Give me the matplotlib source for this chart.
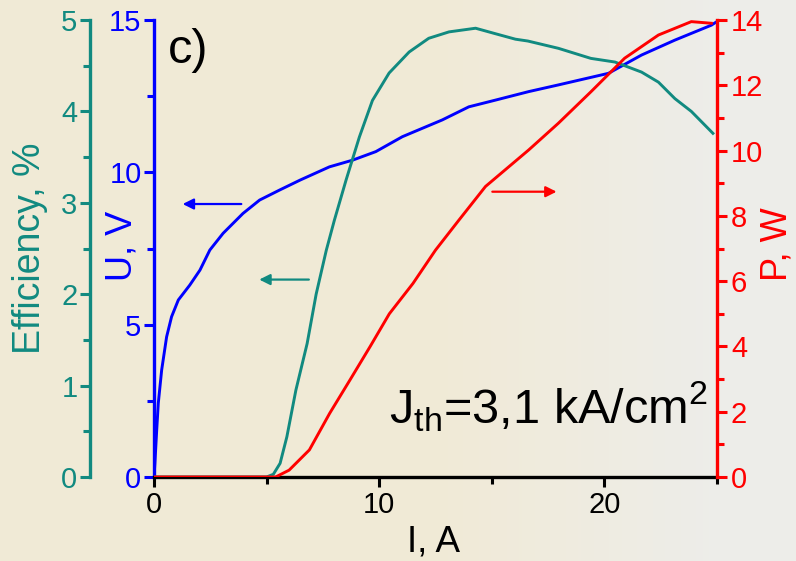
import numpy as np
import matplotlib
matplotlib.use('Agg')
import matplotlib.pyplot as plt
from matplotlib.ticker import MultipleLocator

plt.rcParams['font.family'] = ['Liberation Sans', 'DejaVu Sans']
plt.rcParams['mathtext.fontset'] = 'custom'
plt.rcParams['mathtext.rm'] = 'Liberation Sans'

# corriente, A  /  tension, V
i_u = [0, 0.04, 0.12, 0.19, 0.34, 0.56, 0.78, 1.08, 1.59, 2.04, 2.48, 3.07, 3.95, 4.69,
       5.58, 6.5, 7.79, 8.82, 9.85, 11.03, 12.8, 13.98, 15.16, 16.64, 17.96, 20.18,
       21.65, 23.13, 24.75, 25.0]
u = [0, 0.45, 1.54, 2.42, 3.51, 4.6, 5.26, 5.81, 6.3, 6.79, 7.45, 8.0, 8.65, 9.09,
     9.42, 9.75, 10.18, 10.4, 10.68, 11.17, 11.72, 12.15, 12.37, 12.65, 12.87, 13.25,
     13.85, 14.34, 14.83, 14.95]

# eficiencia, %
i_eff = [0, 5.0, 5.3, 5.6, 5.9, 6.3, 6.8, 7.2, 7.65, 8.01, 8.53, 9.12, 9.7, 10.44, 11.33,
         12.2, 13.1, 14.28, 15.16, 16.05, 16.6, 17.96, 19.4, 20.47, 21.65, 22.4, 23.13,
         23.86, 24.82]
eff = [0, 0, 0.03, 0.15, 0.44, 0.95, 1.46, 2.0, 2.48, 2.81, 3.25, 3.72, 4.12, 4.42, 4.65,
       4.8, 4.87, 4.91, 4.85, 4.79, 4.77, 4.69, 4.58, 4.54, 4.43, 4.32, 4.14,
       4.0, 3.76]

# potencia, W
i_p = [0, 5.4, 6.0, 6.9, 7.8, 8.7, 9.6, 10.45, 11.5, 12.5, 13.54, 14.72, 16.64, 17.96,
       19.4, 20.9, 22.4, 23.86, 24.75]
p = [0, 0, 0.21, 0.83, 1.95, 2.97, 4.0, 5.0, 5.93, 6.95, 7.87, 8.9, 10.02, 10.84,
     11.8, 12.83, 13.54, 13.95, 13.9]

TEAL = '#118a80'
BLUE = '#0000ff'
RED = '#ff0000'

fig = plt.figure(figsize=(7.96, 5.61), dpi=100)

# fondo degradado
bg = fig.add_axes([0, 0, 1, 1], zorder=-10)
grad = np.linspace(0, 1, 256)
c1 = np.array([0.945, 0.918, 0.840])
c2 = np.array([0.930, 0.930, 0.915])
w = np.clip((grad - 0.55) / 0.35, 0, 1)[:, None]
img = (c1 * (1 - w) + c2 * w)[None, :, :]
bg.imshow(img, aspect='auto', extent=[0, 1, 0, 1])
bg.axis('off')

ax = fig.add_axes([154/796, 1 - 477/561, (717 - 154)/796, (477 - 20)/561])
ax.patch.set_alpha(0)
ax_e = ax.twinx()
ax_p = ax.twinx()

# eje de eficiencia a la izquierda
ax_e.yaxis.set_label_position('left')
ax_e.yaxis.tick_left()
ax_e.spines['left'].set_position(('axes', -64/563))
for s in ['right', 'top', 'bottom']:
    ax_e.spines[s].set_visible(False)
ax_e.spines['left'].set_color(TEAL)

for s in ['right', 'top']:
    ax.spines[s].set_visible(False)
ax.spines['left'].set_color(BLUE)
ax.spines['bottom'].set_color('black')

for s in ['left', 'top', 'bottom']:
    ax_p.spines[s].set_visible(False)
ax_p.spines['right'].set_color(RED)

for a in (ax, ax_e, ax_p):
    for s in a.spines.values():
        s.set_linewidth(2.4)

ax_e.plot(i_eff, eff, color=TEAL, lw=2.1)
ax_p.plot(i_p, p, color=RED, lw=2.1)
ax.plot(i_u, u, color=BLUE, lw=2.1, zorder=5)

ax.set_xlim(0, 25)
ax.set_ylim(0, 15)
ax_e.set_ylim(0, 5)
ax_p.set_ylim(0, 14)

ax.xaxis.set_major_locator(MultipleLocator(10))
ax.xaxis.set_minor_locator(MultipleLocator(5))
ax.yaxis.set_major_locator(MultipleLocator(5))
ax.yaxis.set_minor_locator(MultipleLocator(2.5))
ax_e.yaxis.set_major_locator(MultipleLocator(1))
ax_e.yaxis.set_minor_locator(MultipleLocator(0.5))
ax_p.yaxis.set_major_locator(MultipleLocator(2))
ax_p.yaxis.set_minor_locator(MultipleLocator(1))

FS = 21
ax.tick_params(axis='x', which='major', length=7, width=2.2, labelsize=FS, colors='black', pad=3)
ax.tick_params(axis='x', which='minor', length=5, width=2.2, colors='black')
ax.tick_params(axis='y', which='major', length=7, width=2.2, labelsize=FS, colors=BLUE, pad=2)
ax.tick_params(axis='y', which='minor', length=5, width=2.2, colors=BLUE)
ax_e.tick_params(axis='y', which='major', length=7, width=2.2, labelsize=FS, colors=TEAL, pad=2)
ax_e.tick_params(axis='y', which='minor', length=5, width=2.2, colors=TEAL)
ax_p.tick_params(axis='y', which='major', length=7, width=2.2, labelsize=FS, colors=RED, pad=3)
ax_p.tick_params(axis='y', which='minor', length=5, width=2.2, colors=RED)

ax.set_xlabel('I, A', fontsize=26.5)
ax.xaxis.set_label_coords(0.497, -0.104)
ax.set_ylabel('U, V', fontsize=26, color=BLUE)
ax.yaxis.set_label_coords(-0.025, 0.505)
ax_e.set_ylabel('Efficiency, %', fontsize=27, color=TEAL)
ax_e.yaxis.set_label_coords(-0.188, 0.50)
ax_p.set_ylabel('P, W', fontsize=26, color=RED)
ax_p.yaxis.set_label_coords(1.075, 0.51)

# flechas
ax.annotate('', xy=(1.15, 8.96), xytext=(4.0, 8.96),
            arrowprops=dict(arrowstyle='-|>', color=BLUE, lw=1.6, mutation_scale=16))
ax_e.annotate('', xy=(4.55, 2.16), xytext=(7.0, 2.16),
              arrowprops=dict(arrowstyle='-|>', color=TEAL, lw=1.6, mutation_scale=16))
ax_p.annotate('', xy=(18.0, 8.74), xytext=(14.9, 8.74),
              arrowprops=dict(arrowstyle='-|>', color=RED, lw=1.6, mutation_scale=16))

ax.text(0.6, 14.0, 'c)', fontsize=35, color='black', va='center')
ax.text(24.6, 2.3, r'J$_{\rm th}$=3,1 kA/cm$^2$', fontsize=35, color='black',
        ha='right', va='center')

fig.savefig('out.png', dpi=100)
